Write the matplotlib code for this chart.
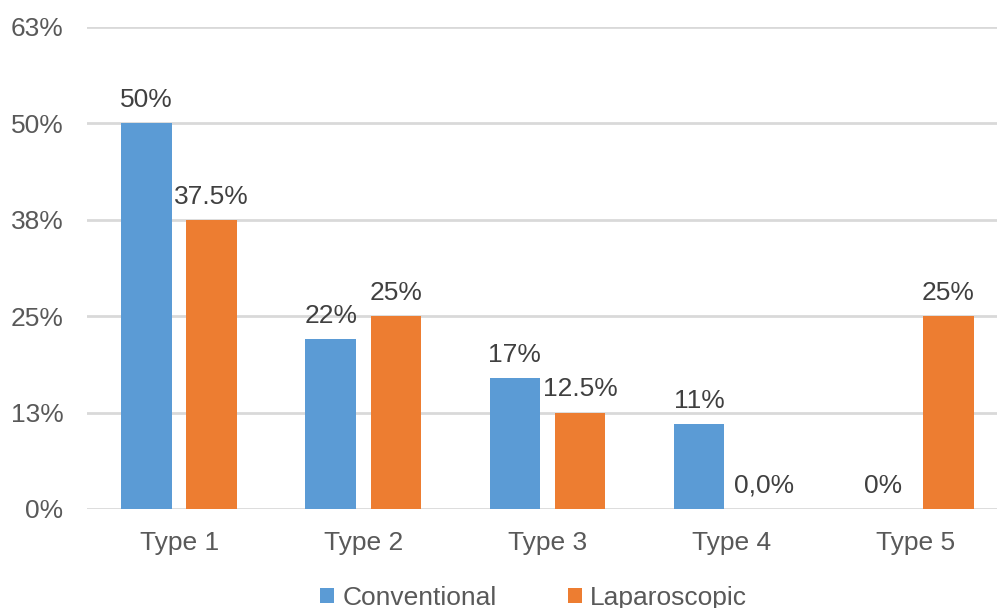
import matplotlib
matplotlib.use("Agg")
import matplotlib.pyplot as plt
import numpy as np

categories = ["Type 1", "Type 2", "Type 3", "Type 4", "Type 5"]
conventional = [50, 22, 17, 11, 0]
laparoscopic = [37.5, 25, 12.5, 0, 25]
conv_labels = ["50%", "22%", "17%", "11%", "0%"]
lap_labels = ["37.5%", "25%", "12.5%", "0,0%", "25%"]
ytick_vals = [0, 12.5, 25, 37.5, 50, 62.5]
ytick_labels = ["0%", "13%", "25%", "38%", "50%", "63%"]

plt.rcParams['font.family'] = ['Liberation Sans', 'DejaVu Sans']
text_color = "#595959"
blue = "#5b9bd5"
orange = "#ed7d31"
fs = 19

fig = plt.figure(figsize=(9.97, 6.08), dpi=100)
W, H = 997, 608
left_px, right_px = 87, 1008
top_px, bottom_px = 27, 509
ax = fig.add_axes([left_px / W, (H - bottom_px) / H, (right_px - left_px) / W, (bottom_px - top_px) / H])

x = np.arange(len(categories))
bw = 0.274
off = 0.177
b1 = ax.bar(x - off, conventional, bw, color=blue, label="Conventional", zorder=3)
b2 = ax.bar(x + off, laparoscopic, bw, color=orange, label="Laparoscopic", zorder=3)

for xi, v, lab in zip(x - off, conventional, conv_labels):
    ax.annotate(lab, (xi, v), xytext=(0, 8), textcoords="offset points", ha="center", va="bottom",
                fontsize=fs, color="#404040")
for xi, v, lab in zip(x + off, laparoscopic, lap_labels):
    ax.annotate(lab, (xi, v), xytext=(0, 8), textcoords="offset points", ha="center", va="bottom",
                fontsize=fs, color="#404040")

ax.set_xlim(-0.5, len(categories) - 0.5)
ax.set_ylim(0, 62.5)
ax.set_yticks(ytick_vals)
ax.set_yticklabels(ytick_labels)
ax.set_xticks(x)
ax.set_xticklabels(categories)
ax.tick_params(axis="both", length=0, labelsize=fs, colors=text_color)
ax.tick_params(axis="y", pad=17)
ax.tick_params(axis="x", pad=16)
ax.grid(axis="y", color="#d9d9d9", linewidth=2, zorder=0)
for s in ax.spines.values():
    s.set_visible(False)

leg = fig.legend(handles=[b1, b2], loc="lower center", bbox_to_anchor=(0.535, -0.042), ncol=2,
                 frameon=False, fontsize=fs, handlelength=0.55, handleheight=0.55,
                 handletextpad=0.3, columnspacing=2.7)
for t in leg.get_texts():
    t.set_color(text_color)

fig.savefig("out.png", dpi=100)
